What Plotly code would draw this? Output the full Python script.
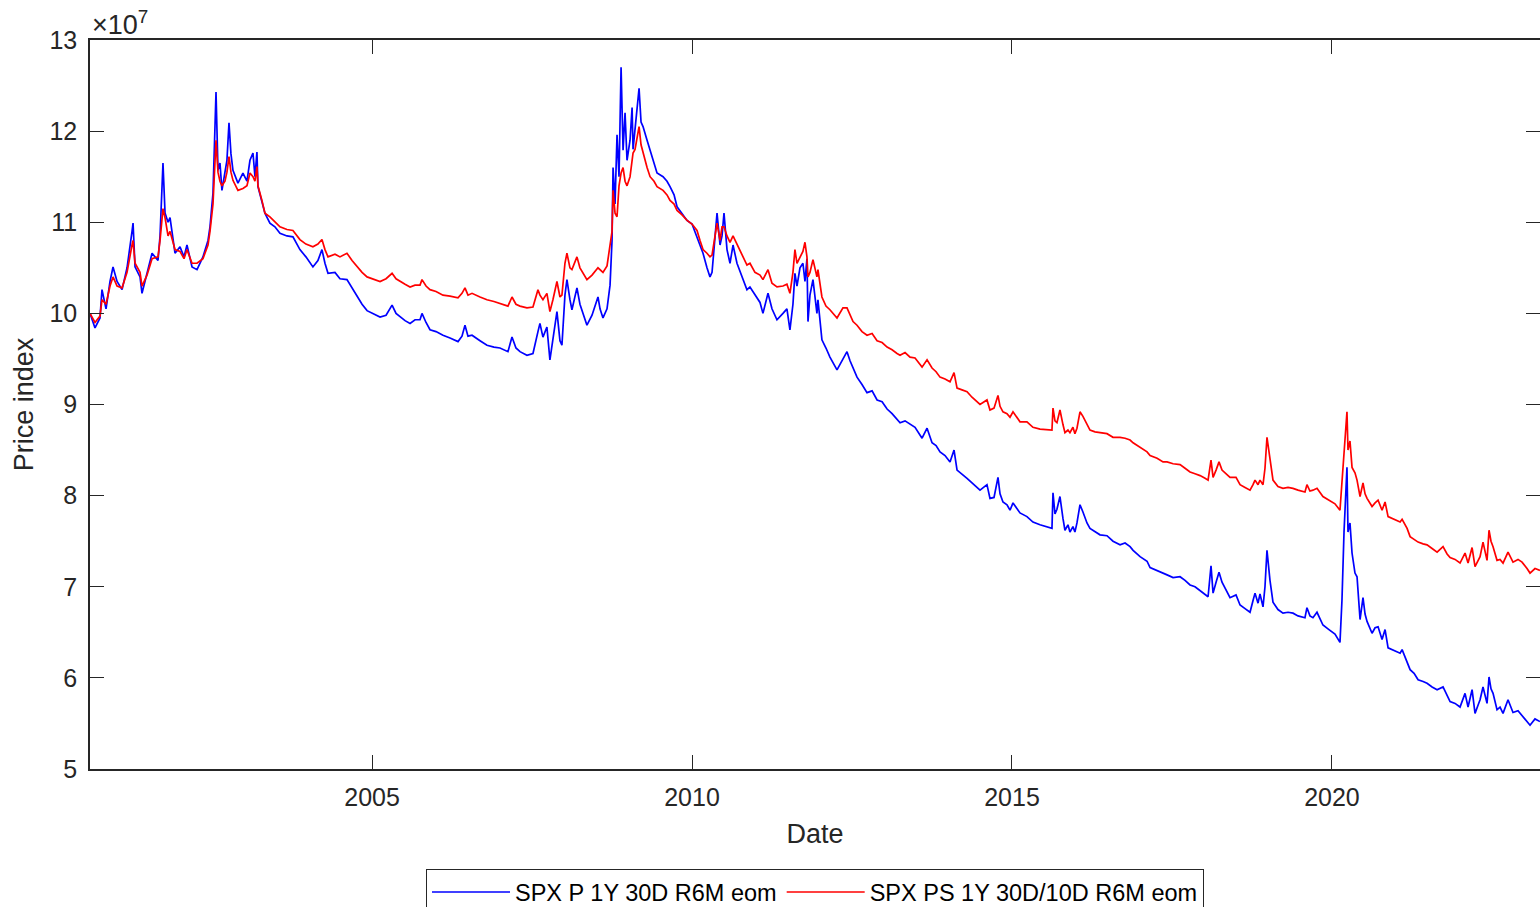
import pandas as pd
import plotly.graph_objects as go

# Sample times as decimal years
t_year = [
    2000.594, 2000.672, 2000.750, 2000.781, 2000.844, 2000.906, 2000.953, 2001.016,
    2001.094, 2001.172, 2001.250, 2001.266, 2001.297, 2001.375, 2001.406, 2001.484,
    2001.563, 2001.656, 2001.688, 2001.734, 2001.766, 2001.813, 2001.844, 2001.922,
    2002.000, 2002.063, 2002.109, 2002.188, 2002.266, 2002.359, 2002.438, 2002.469,
    2002.516, 2002.563, 2002.594, 2002.625, 2002.656, 2002.703, 2002.734, 2002.766,
    2002.797, 2002.828, 2002.906, 2002.984, 2003.047, 2003.094, 2003.141, 2003.172,
    2003.203, 2003.219, 2003.281, 2003.328, 2003.406, 2003.484, 2003.563, 2003.672,
    2003.766, 2003.875, 2003.969, 2004.078, 2004.156, 2004.219, 2004.266, 2004.313,
    2004.422, 2004.500, 2004.609, 2004.688, 2004.766, 2004.844, 2004.922, 2005.000,
    2005.125, 2005.219, 2005.313, 2005.375, 2005.438, 2005.516, 2005.594, 2005.672,
    2005.750, 2005.781, 2005.844, 2005.906, 2006.000, 2006.109, 2006.219, 2006.344,
    2006.406, 2006.453, 2006.500, 2006.563, 2006.688, 2006.797, 2006.906, 2007.000,
    2007.125, 2007.188, 2007.250, 2007.313, 2007.422, 2007.516, 2007.594, 2007.625,
    2007.672, 2007.734, 2007.781, 2007.828, 2007.891, 2007.938, 2007.969, 2008.016,
    2008.047, 2008.094, 2008.125, 2008.203, 2008.250, 2008.359, 2008.438, 2008.531,
    2008.563, 2008.609, 2008.672, 2008.719, 2008.750, 2008.766, 2008.797, 2008.828,
    2008.859, 2008.891, 2008.922, 2008.953, 2008.984, 2009.031, 2009.063, 2009.078,
    2009.109, 2009.141, 2009.172, 2009.203, 2009.234, 2009.297, 2009.344, 2009.406,
    2009.453, 2009.547, 2009.609, 2009.656, 2009.719, 2009.766, 2009.844, 2009.922,
    2010.000, 2010.078, 2010.125, 2010.172, 2010.234, 2010.281, 2010.313, 2010.359,
    2010.391, 2010.438, 2010.469, 2010.500, 2010.547, 2010.594, 2010.641, 2010.703,
    2010.781, 2010.859, 2010.906, 2010.984, 2011.063, 2011.109, 2011.188, 2011.250,
    2011.328, 2011.422, 2011.484, 2011.531, 2011.578, 2011.609, 2011.641, 2011.688,
    2011.734, 2011.766, 2011.797, 2011.813, 2011.844, 2011.891, 2011.953, 2011.969,
    2012.031, 2012.094, 2012.156, 2012.266, 2012.359, 2012.422, 2012.469, 2012.516,
    2012.578, 2012.656, 2012.734, 2012.813, 2012.891, 2012.969, 2013.047, 2013.125,
    2013.203, 2013.250, 2013.328, 2013.406, 2013.484, 2013.594, 2013.672, 2013.750,
    2013.813, 2013.875, 2013.953, 2014.031, 2014.094, 2014.141, 2014.219, 2014.297,
    2014.375, 2014.438, 2014.500, 2014.609, 2014.656, 2014.719, 2014.781, 2014.813,
    2014.859, 2014.922, 2014.969, 2015.016, 2015.078, 2015.125, 2015.234, 2015.328,
    2015.438, 2015.547, 2015.625, 2015.641, 2015.672, 2015.703, 2015.750, 2015.797,
    2015.828, 2015.875, 2015.906, 2015.953, 2015.984, 2016.016, 2016.063, 2016.109,
    2016.172, 2016.219, 2016.297, 2016.375, 2016.484, 2016.578, 2016.688, 2016.766,
    2016.844, 2016.891, 2017.000, 2017.109, 2017.156, 2017.266, 2017.359, 2017.422,
    2017.516, 2017.625, 2017.703, 2017.781, 2017.859, 2017.938, 2018.016, 2018.063,
    2018.109, 2018.141, 2018.188, 2018.234, 2018.281, 2018.328, 2018.406, 2018.500,
    2018.563, 2018.641, 2018.719, 2018.766, 2018.797, 2018.844, 2018.875, 2018.922,
    2018.953, 2018.984, 2019.031, 2019.078, 2019.156, 2019.234, 2019.313, 2019.391,
    2019.469, 2019.578, 2019.609, 2019.656, 2019.703, 2019.766, 2019.859, 2019.953,
    2020.047, 2020.125, 2020.156, 2020.188, 2020.219, 2020.234, 2020.250, 2020.281,
    2020.313, 2020.359, 2020.391, 2020.438, 2020.484, 2020.516, 2020.547, 2020.625,
    2020.672, 2020.719, 2020.781, 2020.828, 2020.875, 2020.969, 2021.063, 2021.094,
    2021.172, 2021.219, 2021.281, 2021.344, 2021.422, 2021.484, 2021.563, 2021.641,
    2021.734, 2021.797, 2021.844, 2021.922, 2022.000, 2022.078, 2022.125, 2022.188,
    2022.234, 2022.281, 2022.313, 2022.359, 2022.422, 2022.453, 2022.484, 2022.516,
    2022.578, 2022.625, 2022.672, 2022.750, 2022.828, 2022.906, 2022.969, 2023.047,
    2023.094, 2023.172, 2023.250,
]

# SPX P 1Y 30D R6M eom (x 1e7)
spx_p = [
    10.00, 9.84, 9.95, 10.26, 10.05, 10.35, 10.51, 10.35,
    10.26, 10.50, 10.90, 10.99, 10.51, 10.40, 10.22, 10.44,
    10.66, 10.58, 10.85, 11.65, 11.10, 11.00, 11.05, 10.66,
    10.73, 10.62, 10.75, 10.51, 10.48, 10.62, 10.80, 10.95,
    11.32, 12.43, 11.57, 11.65, 11.35, 11.55, 11.68, 12.09,
    11.75, 11.57, 11.43, 11.54, 11.45, 11.68, 11.76, 11.50,
    11.77, 11.39, 11.24, 11.10, 10.99, 10.95, 10.88, 10.85,
    10.84, 10.70, 10.62, 10.51, 10.58, 10.70, 10.55, 10.44,
    10.45, 10.38, 10.37, 10.28, 10.18, 10.10, 10.03, 10.00,
    9.96, 9.98, 10.09, 10.00, 9.96, 9.92, 9.89, 9.93,
    9.93, 10.00, 9.90, 9.82, 9.80, 9.76, 9.73, 9.69,
    9.75, 9.87, 9.75, 9.76, 9.70, 9.65, 9.63, 9.62,
    9.58, 9.74, 9.62, 9.58, 9.54, 9.56, 9.80, 9.89,
    9.74, 9.85, 9.49, 9.70, 10.02, 9.70, 9.65, 10.20,
    10.37, 10.15, 10.04, 10.28, 10.10, 9.87, 9.98, 10.18,
    10.05, 9.95, 10.05, 10.31, 10.80, 11.60, 11.20, 11.96,
    11.50, 12.70, 11.79, 12.20, 11.68, 11.90, 12.26, 11.80,
    12.05, 12.30, 12.47, 12.10, 12.05, 11.90, 11.79, 11.65,
    11.54, 11.50, 11.45, 11.39, 11.30, 11.17, 11.10, 11.02,
    10.98, 10.84, 10.75, 10.66, 10.50, 10.40, 10.45, 10.80,
    11.10, 10.75, 10.85, 11.10, 10.70, 10.55, 10.75, 10.55,
    10.40, 10.26, 10.29, 10.20, 10.12, 10.00, 10.22, 10.05,
    9.93, 10.00, 10.05, 9.82, 10.10, 10.44, 10.30, 10.50,
    10.55, 10.35, 10.60, 9.91, 10.20, 10.37, 10.00, 10.15,
    9.71, 9.62, 9.52, 9.38, 9.50, 9.58, 9.48, 9.40,
    9.30, 9.22, 9.13, 9.15, 9.05, 9.03, 8.95, 8.90,
    8.84, 8.80, 8.82, 8.78, 8.75, 8.63, 8.74, 8.58,
    8.55, 8.48, 8.44, 8.37, 8.50, 8.28, 8.24, 8.19,
    8.14, 8.10, 8.06, 8.12, 7.97, 7.98, 8.20, 8.02,
    7.93, 7.90, 7.84, 7.92, 7.85, 7.81, 7.77, 7.71,
    7.68, 7.66, 7.64, 8.03, 7.80, 7.85, 7.99, 7.75,
    7.62, 7.68, 7.60, 7.66, 7.60, 7.70, 7.90, 7.82,
    7.70, 7.64, 7.60, 7.57, 7.56, 7.50, 7.46, 7.48,
    7.44, 7.40, 7.33, 7.28, 7.21, 7.18, 7.15, 7.13,
    7.10, 7.11, 7.07, 7.02, 7.00, 6.96, 6.92, 6.89,
    7.23, 6.93, 7.05, 7.16, 7.05, 6.99, 6.88, 6.91,
    6.80, 6.76, 6.72, 6.85, 6.93, 6.82, 6.92, 6.78,
    7.00, 7.40, 7.07, 6.83, 6.75, 6.71, 6.72, 6.71,
    6.68, 6.66, 6.77, 6.68, 6.66, 6.72, 6.58, 6.53,
    6.48, 6.39, 6.85, 7.60, 8.10, 8.31, 7.60, 7.70,
    7.37, 7.15, 7.11, 6.64, 6.88, 6.70, 6.62, 6.49,
    6.55, 6.56, 6.42, 6.53, 6.33, 6.30, 6.27, 6.31,
    6.17, 6.09, 6.05, 5.98, 5.96, 5.94, 5.90, 5.87,
    5.90, 5.80, 5.74, 5.72, 5.68, 5.83, 5.68, 5.87,
    5.61, 5.70, 5.76, 5.90, 5.72, 6.01, 5.88, 5.83,
    5.65, 5.68, 5.61, 5.76, 5.62, 5.64, 5.59, 5.52,
    5.48, 5.55, 5.52,
]

# SPX PS 1Y 30D/10D R6M eom (x 1e7)
spx_ps = [
    10.00, 9.90, 9.97, 10.15, 10.10, 10.30, 10.40, 10.30,
    10.28, 10.45, 10.75, 10.80, 10.55, 10.45, 10.30, 10.42,
    10.60, 10.62, 10.80, 11.15, 11.05, 10.85, 10.90, 10.70,
    10.68, 10.60, 10.70, 10.55, 10.55, 10.60, 10.75, 10.90,
    11.20, 11.90, 11.55, 11.45, 11.40, 11.45, 11.55, 11.72,
    11.55, 11.46, 11.35, 11.37, 11.40, 11.54, 11.50, 11.45,
    11.61, 11.40, 11.24, 11.10, 11.06, 11.00, 10.95, 10.92,
    10.91, 10.81, 10.76, 10.73, 10.76, 10.81, 10.70, 10.62,
    10.65, 10.62, 10.66, 10.58, 10.51, 10.45, 10.40, 10.38,
    10.35, 10.38, 10.44, 10.38, 10.35, 10.32, 10.29, 10.31,
    10.31, 10.37, 10.30, 10.26, 10.24, 10.20, 10.19, 10.17,
    10.22, 10.28, 10.20, 10.22, 10.18, 10.15, 10.13, 10.11,
    10.08, 10.18, 10.10, 10.08, 10.06, 10.07, 10.26, 10.20,
    10.15, 10.22, 10.02, 10.15, 10.35, 10.18, 10.20, 10.55,
    10.66, 10.50, 10.48, 10.62, 10.50, 10.37, 10.42, 10.50,
    10.48, 10.45, 10.52, 10.72, 10.90, 11.35, 11.10, 11.06,
    11.40, 11.54, 11.60, 11.45, 11.40, 11.50, 11.65, 11.76,
    11.80, 11.95, 12.05, 11.85, 11.76, 11.60, 11.50, 11.45,
    11.39, 11.35, 11.30, 11.24, 11.20, 11.13, 11.08, 11.02,
    10.98, 10.91, 10.80, 10.70, 10.66, 10.62, 10.64, 10.85,
    10.99, 10.80, 10.95, 10.95, 10.85, 10.78, 10.85, 10.76,
    10.65, 10.53, 10.55, 10.45, 10.42, 10.37, 10.48, 10.33,
    10.29, 10.30, 10.32, 10.22, 10.45, 10.70, 10.55, 10.62,
    10.68, 10.78, 10.62, 10.40, 10.45, 10.59, 10.40, 10.48,
    10.18, 10.08, 10.04, 9.95, 10.06, 10.06, 9.98, 9.91,
    9.87, 9.80, 9.76, 9.78, 9.70, 9.68, 9.63, 9.60,
    9.56, 9.54, 9.57, 9.52, 9.51, 9.41, 9.49, 9.40,
    9.36, 9.30, 9.28, 9.25, 9.35, 9.18, 9.16, 9.14,
    9.08, 9.04, 9.00, 9.05, 8.94, 8.96, 9.10, 8.98,
    8.92, 8.90, 8.86, 8.92, 8.85, 8.81, 8.81, 8.75,
    8.73, 8.72, 8.72, 8.96, 8.82, 8.80, 8.94, 8.78,
    8.69, 8.72, 8.69, 8.75, 8.68, 8.74, 8.92, 8.87,
    8.78, 8.72, 8.70, 8.69, 8.68, 8.64, 8.64, 8.63,
    8.61, 8.58, 8.53, 8.48, 8.44, 8.41, 8.37, 8.37,
    8.35, 8.34, 8.30, 8.26, 8.24, 8.22, 8.19, 8.17,
    8.39, 8.20, 8.28, 8.37, 8.28, 8.25, 8.20, 8.20,
    8.12, 8.09, 8.06, 8.12, 8.17, 8.12, 8.17, 8.12,
    8.30, 8.64, 8.39, 8.17, 8.10, 8.08, 8.09, 8.08,
    8.06, 8.04, 8.12, 8.05, 8.06, 8.08, 7.99, 7.95,
    7.91, 7.84, 8.15, 8.50, 8.70, 8.92, 8.50, 8.60,
    8.31, 8.25, 8.17, 7.99, 8.14, 8.02, 7.97, 7.88,
    7.92, 7.95, 7.84, 7.93, 7.77, 7.74, 7.71, 7.74,
    7.64, 7.55, 7.52, 7.49, 7.47, 7.46, 7.42, 7.38,
    7.44, 7.36, 7.32, 7.30, 7.26, 7.37, 7.26, 7.43,
    7.22, 7.28, 7.33, 7.49, 7.29, 7.62, 7.50, 7.44,
    7.29, 7.30, 7.26, 7.38, 7.27, 7.30, 7.27, 7.20,
    7.15, 7.20, 7.18,
]

x_tick_years = [2005, 2010, 2015, 2020]
y_ticks = [5, 6, 7, 8, 9, 10, 11, 12, 13]
x_span = [2000.594, 2023.25]
series_names = ["SPX P 1Y 30D R6M eom", "SPX PS 1Y 30D/10D R6M eom"]


def to_date(t):
    """Convert a decimal year to a timestamp."""
    y = int(t)
    start = pd.Timestamp(year=y, month=1, day=1)
    end = pd.Timestamp(year=y + 1, month=1, day=1)
    return start + (end - start) * (t - y)


dates = [to_date(t) for t in t_year]

AX = "#262626"
FONT = "Liberation Sans, Arial, Helvetica, sans-serif"

fig = go.Figure()
fig.add_trace(go.Scatter(x=dates, y=spx_p, mode="lines", name=series_names[0],
                         line=dict(color="#0000FF", width=1.7)))
fig.add_trace(go.Scatter(x=dates, y=spx_ps, mode="lines", name=series_names[1],
                         line=dict(color="#FF0000", width=1.7)))

fig.update_layout(
    width=1540, height=907,
    margin=dict(l=90, r=0, t=40, b=138, autoexpand=False),
    paper_bgcolor="white", plot_bgcolor="white",
    font=dict(family=FONT, color=AX),
    showlegend=True,
    legend=dict(
        orientation="h", x=0.5, xanchor="center", y=-0.1375, yanchor="top",
        bordercolor=AX, borderwidth=1, bgcolor="white",
        font=dict(size=23.5, color="#000000", family=FONT),
        itemwidth=78,
    ),
)

fig.update_xaxes(
    type="date",
    range=[to_date(x_span[0]), to_date(x_span[1])],
    tickvals=[pd.Timestamp(year=y, month=1, day=1) for y in x_tick_years],
    ticktext=[str(y) for y in x_tick_years],
    showgrid=False, zeroline=False,
    showline=True, linecolor=AX, linewidth=1.6, mirror="ticks",
    ticks="inside", ticklen=14, tickwidth=1.3, tickcolor=AX,
    tickfont=dict(size=25, color=AX), ticklabelstandoff=5,
    title=dict(text="Date", font=dict(size=27, color=AX), standoff=14),
)
fig.update_yaxes(
    range=[y_ticks[0], y_ticks[-1]],
    tickvals=y_ticks,
    showgrid=False, zeroline=False,
    showline=True, linecolor=AX, linewidth=1.6, mirror="ticks",
    ticks="inside", ticklen=14, tickwidth=1.3, tickcolor=AX,
    tickfont=dict(size=25, color=AX), ticklabelstandoff=6,
    title=dict(text="Price index", font=dict(size=27, color=AX), standoff=8),
)

fig.add_annotation(
    xref="paper", yref="paper", x=0, y=1, xanchor="left", yanchor="bottom",
    text="×10<sup>7</sup>", showarrow=False,
    font=dict(size=27, color=AX, family=FONT), xshift=0, yshift=-2,
)

fig.write_html("out.html", config={"displayModeBar": False})
